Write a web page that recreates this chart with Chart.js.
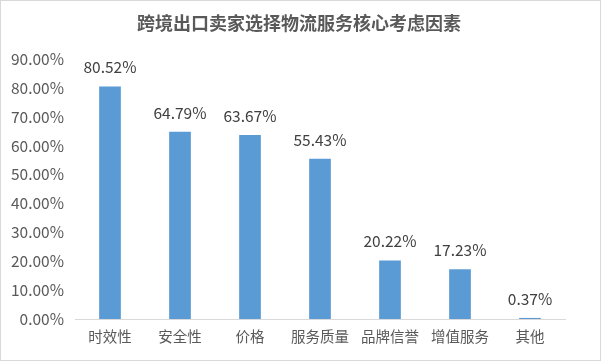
<!DOCTYPE html>
<html><head><meta charset="utf-8">
<script src="https://cdn.jsdelivr.net/npm/chart.js@4/dist/chart.umd.min.js"></script>
<style>html,body{margin:0;padding:0;background:#fff}#wrap{width:601px;height:361px;position:relative}</style>
</head><body><div id="wrap"><canvas id="c" width="601" height="361"></canvas></div>
<script>
const categories = ['时效性','安全性','价格','服务质量','品牌信誉','增值服务','其他'];
const values = [80.52, 64.79, 63.67, 55.43, 20.22, 17.23, 0.37];
const titleText = '跨境出口卖家选择物流服务核心考虑因素';
const FONT = '"Noto Sans CJK SC", "Noto Sans", sans-serif';

const extras = {
  id: 'extras',
  beforeDraw(chart) {
    const ctx = chart.ctx;
    ctx.save();
    ctx.fillStyle = '#fff';
    ctx.fillRect(0, 0, chart.width, chart.height);
    ctx.strokeStyle = '#d9d9d9';
    ctx.lineWidth = 1;
    ctx.strokeRect(0.5, 0.5, chart.width - 1, chart.height - 1);
    ctx.font = 'bold 18px ' + FONT;
    ctx.fillStyle = '#595959';
    ctx.textAlign = 'center';
    ctx.textBaseline = 'middle';
    ctx.fillText(titleText, 299, 23);
    ctx.restore();
  },
  afterDatasetsDraw(chart) {
    const ctx = chart.ctx;
    const meta = chart.getDatasetMeta(0);
    ctx.save();
    ctx.font = '15.5px ' + FONT;
    ctx.fillStyle = '#404040';
    ctx.textAlign = 'center';
    ctx.textBaseline = 'middle';
    meta.data.forEach((bar, i) => {
      ctx.fillText(values[i].toFixed(2) + '%', bar.x, bar.y - 19);
    });
    ctx.restore();
  }
};

new Chart(document.getElementById('c'), {
  type: 'bar',
  data: { labels: categories, datasets: [{ data: values, backgroundColor: '#5b9bd5', borderWidth: 0, barPercentage: 0.62, categoryPercentage: 0.5 }] },
  options: {
    responsive: false, animation: false,
    layout: { padding: { left: 0, right: 36, top: 59, bottom: 0 } },
    plugins: { legend: { display: false }, title: { display: false }, tooltip: { enabled: false } },
    scales: {
      x: {
        grid: { display: false, drawTicks: false },
        border: { display: true, color: '#d9d9d9' },
        ticks: { color: '#595959', font: { family: FONT, size: 14.5 }, padding: 9, maxRotation: 0, autoSkip: false },
        afterFit(s) { s.height = 42; }
      },
      y: {
        min: 0, max: 90,
        grid: { display: false, drawTicks: false },
        border: { display: false },
        ticks: { stepSize: 10, color: '#595959', font: { family: FONT, size: 15.5 }, padding: 11,
          callback: v => Number(v).toFixed(2) + '%' },
        afterFit(s) { s.width = 75; }
      }
    }
  },
  plugins: [extras]
});
</script></body></html>
